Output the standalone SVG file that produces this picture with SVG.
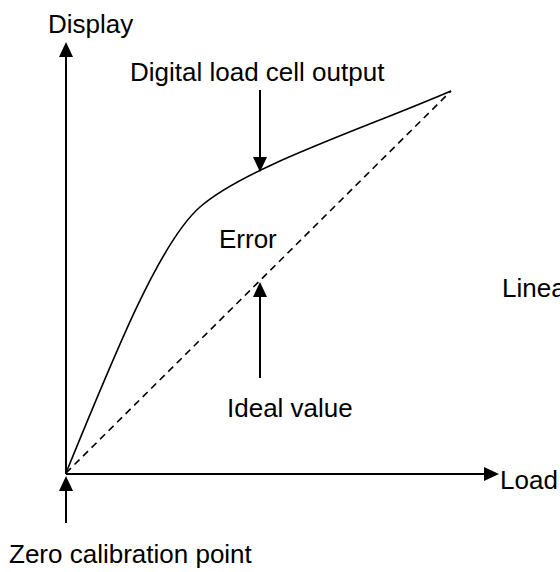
<svg xmlns="http://www.w3.org/2000/svg" width="560" height="572" viewBox="0 0 560 572">
<defs>
<style>
text{font-family:"Liberation Sans",Arial,sans-serif;font-size:26px;fill:#000}
.ax{stroke:#000;stroke-width:2;fill:none}
.ln{stroke:#000;stroke-width:1.6;fill:none}
.ar{fill:#000}
</style>
</defs>
<rect width="560" height="572" fill="#fff"/>
<g id="connectors">
<line class="ax" x1="66" y1="474" x2="66" y2="56"/>
<polygon class="ar" points="66,42 59,57 73,57"/>
<line class="ax" x1="66" y1="474" x2="485" y2="474"/>
<polygon class="ar" points="499,474 484,467 484,481"/>
<path class="ln" d="M66,473 C116,350.5 160,242 200,207 C245,167.4 361,129.7 451,91"/>
<line class="ln" x1="66" y1="473" x2="451" y2="91" stroke-dasharray="7,5"/>
<line class="ax" x1="260" y1="90" x2="260" y2="158"/>
<polygon class="ar" points="260,172 253,157 267,157"/>
<line class="ax" x1="260" y1="378" x2="260" y2="296"/>
<polygon class="ar" points="260,282 253,297 267,297"/>
<line class="ax" x1="66" y1="523" x2="66" y2="490"/>
<polygon class="ar" points="66,476 59,491 73,491"/>
</g>
<g id="label-display"><text x="48" y="33">Display</text></g>
<g id="label-digital"><text x="130" y="81">Digital load cell output</text></g>
<g id="label-error"><text x="219" y="248">Error</text></g>
<g id="label-linea"><text x="502" y="297">Linea</text></g>
<g id="label-ideal"><text x="227" y="417">Ideal value</text></g>
<g id="label-load"><text x="500" y="489">Load</text></g>
<g id="label-zero"><text x="9" y="563">Zero calibration point</text></g>
</svg>
